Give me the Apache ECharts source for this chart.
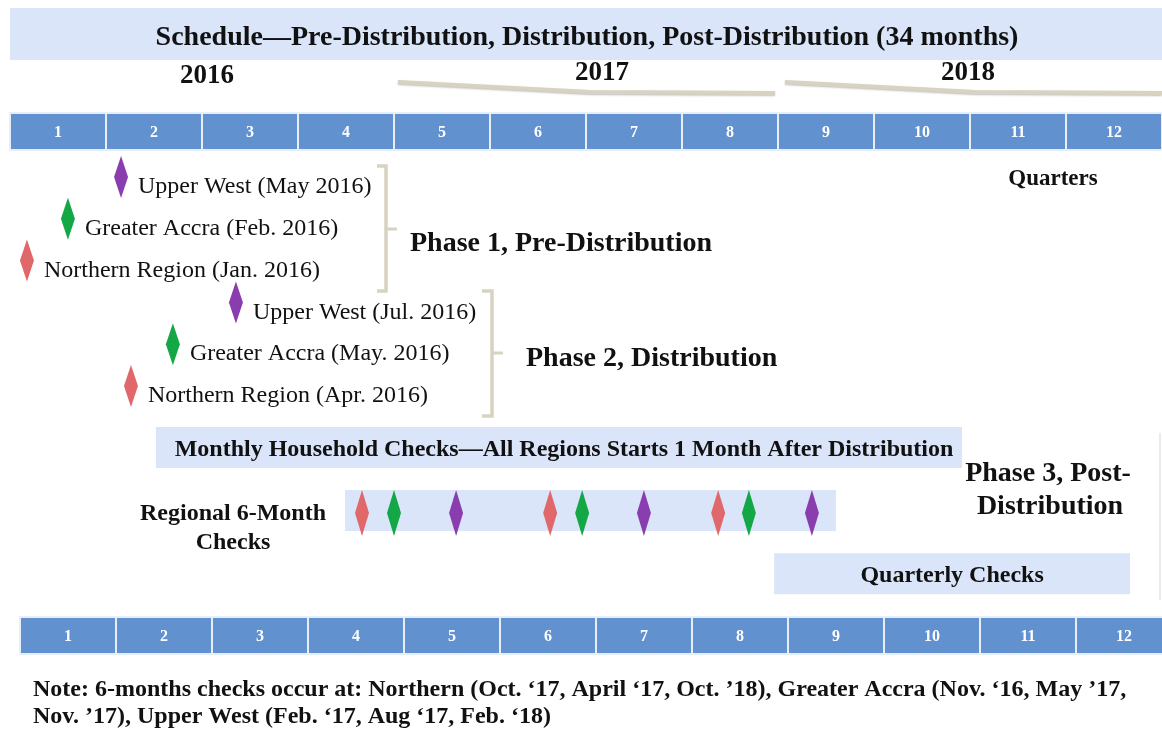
<!DOCTYPE html>
<html>
<head>
<meta charset="utf-8">
<script src="https://cdn.jsdelivr.net/npm/echarts@6/dist/echarts.min.js"></script>
<style>
html,body{margin:0;padding:0;background:#fff;}
#chart{width:1162px;height:729px;}
</style>
</head>
<body>
<div id="chart"></div>
<script>
// ---------- DATA ----------
const titleText = 'Schedule\u2014Pre-Distribution, Distribution, Post-Distribution (34 months)';
const years = ['2016', '2017', '2018'];
const quarters = ['1','2','3','4','5','6','7','8','9','10','11','12'];
const quarterStartMonth = [0,3,6,9,12,15,18,21,24,27,30,33];
const quarterEndMonth   = [3,6,9,12,15,18,21,24,27,30,33,36];

// milestone diamonds (x = month from Jan 2016, y = row)
const milestoneLabels = [
  'Upper West (May 2016)', 'Greater Accra (Feb. 2016)', 'Northern Region (Jan. 2016)',
  'Upper West (Jul. 2016)', 'Greater Accra (May. 2016)', 'Northern Region (Apr. 2016)'
];
const milestoneRegion = ['Upper West','Greater Accra','Northern','Upper West','Greater Accra','Northern'];
const milestoneMonth = [3.47, 1.81, 0.53, 7.06, 5.09, 3.78];
const milestoneRow   = [0, 1, 2, 3, 4, 5];

// regional 6-month checks
const sixMonthRegion = ['Northern','Greater Accra','Upper West','Northern','Greater Accra','Upper West','Northern','Greater Accra','Upper West'];
const sixMonthMonth  = [11.0, 12.0, 13.94, 16.88, 17.88, 19.81, 22.13, 23.09, 25.06];

// banners: [start month, end month]
const bannerNames = ['title', 'monthly', 'sixMonth', 'quarterly'];
const bannerStart = [0, 4.56, 10.47, 23.88];
const bannerEnd   = [36, 29.75, 25.81, 35.0];
const bannerTexts = [titleText, 'Monthly Household Checks\u2014All Regions Starts 1 Month After Distribution', '', 'Quarterly Checks'];

const noteLines = [
  'Note: 6-months checks occur at: Northern (Oct. \u201817, April \u201817, Oct. \u201918), Greater Accra (Nov. \u201816, May \u201917,',
  'Nov. \u201917), Upper West (Feb. \u201817, Aug \u201817, Feb. \u201818)'
];

// ---------- LAYOUT / STYLE ----------
const rowOf = { title: -3.42, monthly: 6.47, sixMonth: 7.98, quarterly: 9.49, topBar: -1.09, bottomBar: 10.97, six: 8.04 };
const bannerHeight = { title: 52, monthly: 41, sixMonth: 41, quarterly: 41 };
const regionColor = { 'Northern': '#e0686a', 'Greater Accra': '#13a845', 'Upper West': '#8a3dae' };
const bannerFill = '#dae5fa';
const cellFill = '#6191cf';
const serif = '"Liberation Serif","Times New Roman",serif';
const beige = '#d8d2c0';

const chart = echarts.init(document.getElementById('chart'), null, {renderer: 'canvas'});

function bannerRender(params, api) {
  const name = bannerNames[params.dataIndex];
  const h = bannerHeight[name];
  const p0 = api.coord([api.value(0), api.value(2)]);
  const p1 = api.coord([api.value(1), api.value(2)]);
  const txt = bannerTexts[params.dataIndex];
  const children = [{
    type: 'rect',
    shape: {x: p0[0], y: p0[1] - h/2, width: p1[0] - p0[0], height: h},
    style: {fill: bannerFill}
  }];
  if (txt) {
    let cx = (p0[0] + p1[0]) / 2;
    let fs = 24;
    let dy = 2;
    if (name === 'title') { cx = 587; fs = 28; dy = 4; }
    if (name === 'monthly') { cx = 564; }
    children.push({
      type: 'text',
      style: {text: txt, x: cx, y: p0[1] + dy, align: 'center', verticalAlign: 'middle',
        font: 'bold ' + fs + 'px ' + serif, fill: '#111'}
    });
  }
  return {type: 'group', children};
}

function cellRender(shiftPx) {
  return function(params, api) {
    const p0 = api.coord([api.value(0), api.value(2)]);
    const p1 = api.coord([api.value(1), api.value(2)]);
    const h = 37;
    return {
      type: 'group',
      children: [{
        type: 'rect',
        shape: {x: p0[0] + shiftPx, y: p0[1] - h/2, width: p1[0] - p0[0], height: h},
        style: {fill: cellFill, stroke: '#e8eef8', lineWidth: 2}
      }, {
        type: 'text',
        style: {text: quarters[params.dataIndex], x: (p0[0] + p1[0]) / 2 + shiftPx, y: p0[1] + 1,
          align: 'center', verticalAlign: 'middle', font: 'bold 16px ' + serif, fill: '#ffffff'}
      }]
    };
  };
}

const bannerData = bannerNames.map((n, i) => [bannerStart[i], bannerEnd[i], rowOf[n]]);
const topCells = quarters.map((q, i) => [quarterStartMonth[i], quarterEndMonth[i], rowOf.topBar]);
const bottomCells = quarters.map((q, i) => [quarterStartMonth[i], quarterEndMonth[i], rowOf.bottomBar]);

const milestoneData = milestoneLabels.map((l, i) => ({
  name: l,
  value: [milestoneMonth[i], milestoneRow[i]],
  itemStyle: {color: regionColor[milestoneRegion[i]], opacity: 1}
}));
const sixData = sixMonthRegion.map((r, i) => ({
  name: r,
  value: [sixMonthMonth[i], rowOf.six],
  itemStyle: {color: regionColor[r], opacity: 1}
}));

const diamondPath = 'path://M0,-1 L1,0 L0,1 L-1,0 Z';

function txt(text, x, y, size, opts) {
  return {
    type: 'text', x: x, y: y, silent: true,
    style: {text: text, font: (opts && opts.normal ? '' : 'bold ') + size + 'px ' + serif, fill: '#111',
      align: (opts && opts.align) || 'left', verticalAlign: 'middle'}
  };
}

const lineStyle = {stroke: beige, lineWidth: 4, fill: null, shadowBlur: 2, shadowColor: 'rgba(0,0,0,0.25)', shadowOffsetY: 1};

const graphics = [
  // year labels
  txt(years[0], 207, 76, 27, {align: 'center'}),
  txt(years[1], 602, 73, 27, {align: 'center'}),
  txt(years[2], 968, 73, 27, {align: 'center'}),
  // year span lines
  {type: 'polyline', shape: {points: [[398, 82], [590, 92], [775, 93]]}, style: lineStyle},
  {type: 'polyline', shape: {points: [[785, 82], [975, 92], [1162, 93]]}, style: lineStyle},
  txt('Quarters', 1053, 179, 23, {align: 'center'}),
  // brackets
  {type: 'polyline', shape: {points: [[377, 166], [386, 166], [386, 291], [377, 291]]},
    style: {stroke: beige, lineWidth: 3.5, fill: null}},
  {type: 'line', shape: {x1: 386, y1: 229, x2: 397, y2: 229}, style: {stroke: beige, lineWidth: 3}},
  {type: 'polyline', shape: {points: [[482, 291], [492, 291], [492, 416], [482, 416]]},
    style: {stroke: beige, lineWidth: 3.5, fill: null}},
  {type: 'line', shape: {x1: 492, y1: 353, x2: 503, y2: 353}, style: {stroke: beige, lineWidth: 3}},
  txt('Phase 1, Pre-Distribution', 410, 244, 28),
  txt('Phase 2, Distribution', 526, 359, 28),
  txt('Phase 3, Post-', 1048, 474, 28, {align: 'center'}),
  txt('Distribution', 1050, 507, 28, {align: 'center'}),
  txt('Regional 6-Month', 233, 514, 24, {align: 'center'}),
  txt('Checks', 233, 543, 24, {align: 'center'}),
  {type: 'line', shape: {x1: 1160, y1: 433, x2: 1160, y2: 600}, style: {stroke: '#e4e4e4', lineWidth: 1.5}},
  txt(noteLines[0], 33, 690, 24),
  txt(noteLines[1], 33, 717, 24)
];

const option = {
  animation: false,
  backgroundColor: '#ffffff',
  grid: {left: 10, right: 0, top: 0, bottom: 0},
  xAxis: {type: 'value', min: 0, max: 36, show: false},
  yAxis: {type: 'value', min: -4.234, max: 13.206, inverse: true, show: false},
  series: [
    {type: 'custom', renderItem: bannerRender, data: bannerData, z: 1, silent: true},
    {type: 'custom', renderItem: cellRender(0), data: topCells, z: 2, silent: true},
    {type: 'custom', renderItem: cellRender(10), data: bottomCells, z: 2, silent: true},
    {
      type: 'scatter', data: milestoneData, symbol: diamondPath, symbolSize: [14, 42], z: 5,
      label: {show: true, position: 'right', distance: 10, offset: [0, 10], formatter: p => p.name,
        fontFamily: serif, fontSize: 24, color: '#111'}
    },
    {type: 'scatter', data: sixData, symbol: diamondPath, symbolSize: [14, 46], z: 5}
  ],
  graphic: graphics
};
chart.setOption(option);
</script>
</body>
</html>
